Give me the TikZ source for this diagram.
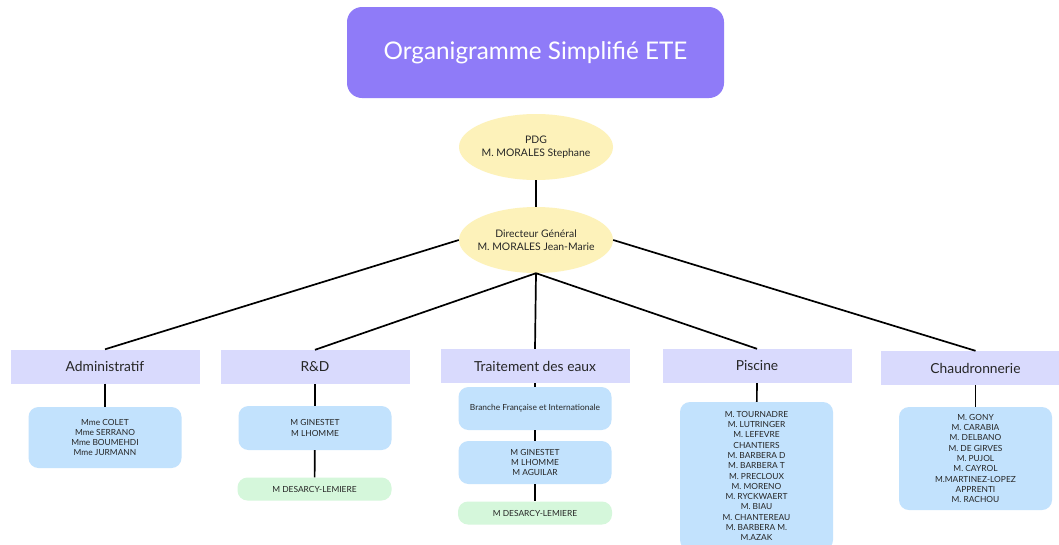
\documentclass[tikz,border=0pt]{standalone}
\usepackage{fontspec}
\setmainfont{Lato}
\usepackage{tikz}
\usetikzlibrary{shapes.geometric}
\definecolor{titlebg}{HTML}{8F7BF8}
\definecolor{bossbg}{HTML}{FDF2BA}
\definecolor{deptbg}{HTML}{D9DAFD}
\definecolor{teambg}{HTML}{C2E2FD}
\definecolor{extrabg}{HTML}{D5F7DB}

\begin{document}
\begin{tikzpicture}[
    x=1pt, y=-1pt,
    every node/.style={text=black!85, align=center},
    titlebox/.style={fill=titlebg, rounded corners=15pt, minimum width=377pt,
      minimum height=91pt, text=white, font=\fontsize{24.3}{28}\selectfont},
    boss/.style={ellipse, fill=bossbg, minimum width=154pt, minimum height=66pt,
      inner xsep=-5pt, inner ysep=0pt, font=\fontsize{10.4}{12.5}\selectfont},
    dept/.style={fill=deptbg, minimum width=189pt, minimum height=34pt,
      inner sep=0pt, font=\fontsize{13.8}{15}\selectfont},
    team/.style={fill=teambg, rounded corners=10pt, minimum width=153pt,
      inner sep=0pt, font=\fontsize{8.4}{10.3}\selectfont},
    extra/.style={fill=extrabg, rounded corners=10pt, minimum width=154pt,
      minimum height=23pt, inner sep=0pt, font=\fontsize{8.4}{10.3}\selectfont},
    link/.style={black, line width=1.7pt},
  ]
  \clip (0,0) rectangle (1059,544);
  \fill[white] (0,0) rectangle (1059,544);

  % title and direction
  \node[titlebox] (title) at (535.5,52.5) {Organigramme Simplifié ETE};
  \node[boss] (pdg) at (536,147) {PDG\\M. MORALES Stephane};
  \node[boss] (dg) at (536,240) {Directeur Général\\M. MORALES Jean-Marie};

  % departments
  \node[dept] (adm) at (105,366.5) {Administratif};
  \node[dept] (rd) at (315,367) {R\&D};
  \node[dept] (eaux) at (535,366) {Traitement des eaux};
  \node[dept] (pisc) at (757,366) {Piscine};
  \node[dept] (chau) at (975.5,368) {Chaudronnerie};

  % teams
  \node[team, minimum height=61pt] (admteam) at (105,437.5)
    {Mme COLET\\Mme SERRANO\\Mme BOUMEHDI\\Mme JURMANN};
  \node[team, minimum height=44pt] (rdteam) at (315,428) {M GINESTET\\M LHOMME};
  \node[extra] (rdext) at (314.5,489) {M DESARCY-LEMIERE};
  \node[team, minimum height=43pt] (branche) at (535,408.5)
    {Branche Française et Internationale};
  \node[team, minimum height=43pt] (eauxteam) at (535,462.5)
    {M GINESTET\\M LHOMME\\M AGUILAR};
  \node[extra] (eauxext) at (535,513) {M DESARCY-LEMIERE};
  \node[team, minimum height=148pt] (pisteam) at (756.5,476)
    {M. TOURNADRE\\M. LUTRINGER\\M. LEFEVRE\\CHANTIERS\\M. BARBERA D\\M. BARBERA T\\M. PRECLOUX\\M. MORENO\\M. RYCKWAERT\\M. BIAU\\M. CHANTEREAU\\M. BARBERA M.\\M.AZAK};
  \node[team, minimum height=103pt] (chauteam) at (975.5,458.5)
    {M. GONY\\M. CARABIA\\M. DELBANO\\M. DE GIRVES\\M. PUJOL\\M. CAYROL\\M.MARTINEZ-LOPEZ\\APPRENTI\\M. RACHOU};

  % links
  \draw[link] (pdg) -- (dg);
  \draw[link] (dg.west) -- (adm.north);
  \draw[link] (dg.south) -- (rd.north);
  \draw[link] (dg.south) -- (eaux.north);
  \draw[link] (dg.south) -- (pisc.north);
  \draw[link] (dg.east) -- (chau.north);
  \draw[link] (adm) -- (admteam);
  \draw[link] (rd) -- (rdteam);
  \draw[link] (rdteam) -- (rdext);
  \draw[link] (eaux) -- (branche);
  \draw[link] (branche) -- (eauxteam);
  \draw[link] (eauxteam) -- (eauxext);
  \draw[link] (pisc) -- (pisteam);
  \draw[link] (chau) -- (chauteam);
\end{tikzpicture}
\end{document}
